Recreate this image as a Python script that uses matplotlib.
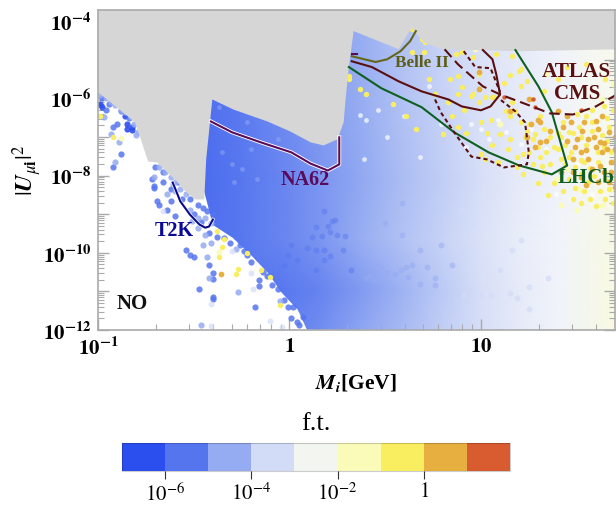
import numpy as np
import matplotlib
matplotlib.use('Agg')
import matplotlib.pyplot as plt
from matplotlib.colors import BoundaryNorm, LinearSegmentedColormap, ListedColormap, Normalize
from matplotlib.cm import ScalarMappable
from matplotlib.patches import Polygon
from matplotlib.ticker import FixedLocator, NullFormatter
import matplotlib.patheffects as pe

plt.rcParams['font.family'] = ['Liberation Serif', 'DejaVu Serif']
plt.rcParams['mathtext.fontset'] = 'stix'

# everything below is log10(mass/GeV) and log10(|U|^2)
x_lim = [-1.0, 1.7]
y_lim = [-12.0, -3.7]

bin_colors = ['#2b4eef', '#5575ef', '#95abf2', '#d3dcf7', '#f3f5f0', '#fafbb8', '#f9ee60', '#e6af3f', '#d95c30']
field_colors = ['#2b4eef', '#5575ef', '#95abf2', '#d3dcf7', '#f9fafa', '#fafbb8', '#f9ee60', '#e6af3f', '#d95c30']
bin_edges = [-7, -6, -5, -4, -3, -2, -1, 0, 1, 2]

excl_m = [-1.0, -1.0, -0.806, -0.764, -0.738, -0.691, -0.587, -0.555, -0.492, -0.445, -0.435, -0.403, -0.293, -0.115,
          0.005, 0.11, 0.178, 0.251, 0.283, 0.293, 0.309, 0.335, 0.571, 0.623, 0.639, 0.702, 0.796, 1.215, 1.712, 1.712]
excl_u = [-3.7, -5.84, -6.62, -7.25, -7.64, -7.66, -8.16, -8.36, -8.62, -8.62, -7.58, -6.03, -6.29, -6.60,
          -6.86, -7.14, -7.22, -7.06, -6.62, -6.03, -5.25, -4.26, -4.73, -4.29, -4.18, -4.55, -4.73, -4.78, -4.73, -3.7]

cloud_m = [-0.445, -0.398, -0.293, -0.188, -0.11, -0.037, 0.042, 0.094, 1.712, 1.712, -0.445]
cloud_u = [-8.4, -9.27, -9.61, -10.10, -10.52, -11.04, -11.48, -12.0, -12.0, -3.7, -3.7]

field_m = [-0.445, -0.26, -0.05, 0.16, 0.37, 0.58, 0.79, 1.00, 1.21, 1.42, 1.712]
field_u = [-12.0, -10.96, -9.66, -8.10, -6.03, -3.7]
field_ft = [[-5.35, -5.35, -5.35, -5.05, -4.6, -4.2, -3.8, -3.4, -3.0, -2.7, -2.1],
            [-5.45, -5.45, -5.45, -5.2, -4.8, -4.35, -3.9, -3.4, -3.0, -2.7, -2.1],
            [-5.65, -5.45, -5.2, -4.9, -4.45, -4.05, -3.7, -3.3, -2.9, -2.7, -2.15],
            [-5.7, -5.45, -5.2, -4.9, -4.55, -4.15, -3.8, -3.4, -3.0, -2.75, -2.3],
            [-5.65, -5.4, -5.1, -4.8, -4.45, -4.05, -3.7, -3.3, -3.0, -2.75, -2.3],
            [-5.65, -5.4, -5.1, -4.8, -4.45, -4.05, -3.7, -3.3, -3.0, -2.75, -2.3]]

bin1_m = [-0.99, -0.98, -0.86, -0.85, -0.85, -0.82, -0.82]
bin1_u = [-6.16, -6.23, -6.47, -6.67, -6.80, -6.83, -6.73]

bin2_m = [-0.96, -0.92, -0.90, -0.88, -0.92, -0.70, -0.66, -0.71, -0.66, -0.62, -0.58, -0.69, -0.68, -0.72, -0.71, -0.64,
          -0.62, -0.60, -0.54, -0.52, -0.50, -0.42, -0.40, -0.40, -0.47, -0.40, -0.40, -0.18, -0.16, -0.16, -0.01, 0.02,
          0.05, 0.07, -0.24, -0.40, -0.48, -0.45, -0.52, -0.56, -0.43, -0.38, -0.34, -0.26, -0.20, -0.14, -0.09, -0.03,
          0.01, 0.04, -0.31, -0.22, -0.12, -0.06, -0.98, -0.94, -0.88, -0.84, -0.50, -0.46, -0.42]
bin2_u = [-6.31, -6.73, -6.67, -7.43, -7.79, -7.79, -7.90, -8.26, -8.16, -8.36, -8.18, -8.67, -8.75, -8.10, -8.31, -8.88,
          -8.67, -9.06, -9.92, -10.05, -10.10, -10.31, -10.52, -10.67, -10.93, -11.14, -11.19, -11.40, -10.70, -10.86, -11.40, -11.40,
          -11.87, -11.66, -9.95, -9.01, -8.75, -8.83, -8.62, -8.62, -8.93, -9.58, -9.61, -9.79, -10.23, -10.49, -10.83, -11.22,
          -11.69, -11.79, -9.75, -10.05, -10.60, -10.95, -6.0, -6.15, -6.33, -6.52, -9.0, -9.2, -9.5]

over2_m = [0.18, 0.22, 0.24, 0.14, 0.21, 0.20, 0.12, 0.17, 0.25, 0.29, -0.01, 0.04, 0.09, 0.14, 0.18, 0.18,
           0.14, 0.28, 0.21, 0.32, -0.03, 0.01]
over2_u = [-8.93, -9.17, -9.14, -9.32, -9.45, -9.30, -9.58, -9.56, -9.53, -9.56, -10.05, -10.18, -9.87, -9.92, -9.92, -10.18,
           -10.44, -9.92, -10.08, -10.44, -10.31, -9.79]

bin3_m = [-0.97, -0.93, -0.80, -0.91, -0.89, -0.71, -0.61, -0.64, -0.28, -0.27, -0.05, -0.46, -0.43, -0.42, -0.99, -0.96,
          -0.93, -0.91, -0.88, -0.86, -0.83, -0.81, -0.79, -0.68, -0.65, -0.62, -0.60, -0.57, -0.54, -0.60, -0.52, -0.48,
          -0.44, -0.41, -0.44, -0.48, -0.51, -0.45, -0.41]
bin3_u = [-6.49, -6.93, -6.96, -7.66, -7.12, -8.03, -8.21, -8.47, -9.90, -11.01, -11.25, -11.87, -10.10, -10.65, -5.92, -6.0,
          -6.10, -6.18, -6.29, -6.36, -6.49, -6.67, -6.88, -7.79, -7.92, -8.05, -8.18, -8.36, -8.49, -8.41, -8.88, -9.09,
          -9.09, -9.22, -9.53, -9.35, -9.19, -9.79, -9.74]

over3_m = [0.50, 0.59, 0.59, 0.68, 0.79, 0.85, 0.76, 0.72, 0.64, 0.61, 0.58, 0.51, 0.48, 0.55, 0.42, 0.40, 0.44, 0.62, 0.68, 0.76]
over3_u = [-9.22, -8.70, -9.53, -9.92, -9.79, -10.31, -10.65, -10.36, -10.31, -10.36, -10.44, -10.49, -10.36, -10.54, -10.60, -10.65,
           -10.70, -10.62, -10.80, -10.83]

blob_m = [-0.37, -0.30, -0.25, -0.29, -0.20, -0.06, -0.22, -0.35, -0.17]
blob_u = [-6.23, -7.71, -7.84, -8.18, -7.32, -7.06, -6.62, -7.40, -8.10]

bin4_m = [-0.66, -0.41, -0.30, -0.20, -0.10, -0.04, -0.41, -0.19, 0.91, 0.95, 1.35, 1.25, 1.15, 1.25, 1.19, 1.05, 1.00,
          1.10, 1.16, 0.95, 0.90, 1.21]
bin4_u = [-8.93, -11.32, -9.95, -10.52, -11.76, -11.92, -11.89, -10.93, -11.09, -10.70, -10.65, -10.88, -11.04, -11.45, -11.17, -11.09, -11.09,
          -10.44, -9.92, -9.27, -8.88, -9.66]

bin5_m = [0.60, 0.51, 0.40, 0.37, 0.46, 0.73, 0.39, 0.68, 0.92, 1.04, 1.13, 1.16, 1.09, 0.79, 0.95, 1.21, 1.39, 1.47, 1.58,
          1.50, 1.34, 1.42, 1.68, 1.60, 1.26, 1.00]
bin5_u = [-6.47, -7.01, -6.55, -6.42, -6.29, -5.69, -7.58, -7.51, -7.25, -7.06, -6.88, -6.29, -6.55, -6.67, -6.67, -7.19, -8.49, -8.62, -8.49,
          -7.71, -7.32, -7.06, -7.32, -6.55, -6.80, -6.80]

bin6_m = [-0.88, -0.37, 1.39, 1.45, 1.51, 1.68, 1.63, 1.50, 1.42, 1.63, 1.69, 1.34, 0.97, 1.10]
bin6_u = [-7.04, -9.97, -8.10, -7.84, -8.36, -8.36, -8.75, -8.88, -8.75, -6.03, -5.64, -5.38, -4.73, -6.67]

bin7_m = [-0.99, -0.92, -0.38, -0.34, -0.35, -0.27, -0.28, -0.22, -0.15, -0.10, -0.05, -0.37,
          1.20, 1.24, 1.21, 1.07, 1.02, 0.96, 0.99, 1.16, 1.13, 1.15, 1.18, 0.90, 0.84, 0.91, 0.88, 1.00, 1.05, 1.21, 1.25,
          1.31, 1.33, 1.28, 1.23, 1.30, 1.31, 1.19, 1.22, 1.15, 1.10, 1.00, 1.02, 1.09, 1.19, 1.43, 1.46, 1.51, 1.58, 1.64,
          1.70, 1.38, 1.42, 1.49, 1.54, 1.61, 1.68, 1.46, 1.49, 1.40, 1.54, 1.62, 1.67, 1.56, 1.46, 1.61, 1.67, 1.58, 1.64, 1.42,
          0.69, 0.71, 0.64, 0.70, 0.87, 0.90, 0.99, 0.31, 0.31, 0.40, 0.37, 0.54, 0.61, 0.66, 0.80, 0.85, 0.88, 0.95, 1.06,
          1.08, 1.16, 1.21, 1.26, 0.96, 0.88, 0.64,
          1.40, 1.36, 1.34, 1.36, 1.33, 1.38, 1.43, 1.48, 1.52, 1.57, 1.60, 1.65, 1.69, 1.55, 1.52, 1.48, 1.44, 1.47, 1.44, 1.52,
          1.57, 1.52, 1.59, 1.65, 1.70, 1.68, 1.66, 1.70, 1.63, 1.58, 1.55, 1.50, 1.66, 1.69, 1.24, 1.27, 1.25, 1.27, 1.32, 1.22,
          1.35, 1.30, 1.14, 1.06, 1.03, 0.92, 0.83, 0.76, 0.73, 1.12, 1.15, 1.33, 1.40, 1.45, 1.55, 1.65]
bin7_u = [-6.47, -6.99, -9.43, -9.64, -9.84, -10.41, -10.54, -10.0, -10.44, -10.62, -11.35, -10.10,
          -5.30, -5.56, -5.69, -5.97, -5.97, -5.90, -6.10, -6.10, -6.34, -6.47, -6.34, -5.71, -5.51, -6.29, -6.73, -6.62, -6.55, -6.62, -6.67,
          -6.47, -6.80, -6.93, -6.99, -7.25, -7.51, -7.51, -7.45, -7.06, -6.93, -7.45, -7.58, -7.66, -7.77, -6.62, -6.88, -6.73, -6.62, -7.25,
          -7.32, -7.25, -7.58, -7.77, -7.66, -7.66, -7.92, -8.10, -8.31, -7.32, -8.41, -8.41, -8.36, -8.18, -7.51, -7.40, -6.73, -6.29, -6.21, -7.01,
          -4.47, -4.55, -4.81, -4.81, -4.86, -4.81, -5.38, -5.43, -5.51, -5.90, -5.77, -6.16, -6.47, -6.80, -6.93, -6.47, -5.90, -5.95, -5.97,
          -4.86, -4.91, -5.25, -6.03, -4.93, -5.43, -4.21,
          -6.9, -7.0, -7.4, -7.7, -7.9, -8.2, -8.4, -8.6, -8.7, -8.6, -8.8, -8.6, -8.7, -7.2, -7.0, -6.9, -7.2, -7.4, -7.7, -7.6,
          -7.8, -7.95, -8.0, -8.1, -8.1, -7.4, -7.1, -7.6, -6.95, -6.85, -6.45, -6.4, -6.5, -6.3, -6.85, -7.05, -7.4, -7.7, -7.75, -7.95,
          -8.5, -8.2, -7.3, -7.2, -6.9, -6.9, -6.1, -5.9, -5.5, -5.6, -5.4, -5.8, -5.5, -5.2, -5.1, -5.5]

bin8_m = [1.25, 1.62, 1.59, 1.56, 1.61, 1.67, 1.70, 1.63, 1.56, 1.58, 1.64, 1.68, 1.31, 1.30, 1.26, 1.15, 0.99, 1.49, 1.52,
          1.48, 1.52, 1.43, 1.61, 1.67, 1.40, 1.47, 1.54, 1.63, 1.31, 1.28, -0.36, 0.99,
          1.60, 1.64, 1.55, 1.50, 1.45, 1.53, 1.48, 1.42, 1.55, 1.62, 1.68, 1.70, 1.66, 1.60, 1.36, 1.34, 1.24, 1.70, 1.45]
bin8_u = [-6.03, -7.12, -7.01, -7.06, -6.80, -6.86, -6.99, -7.40, -7.58, -7.84, -7.92, -7.66, -6.62, -6.55, -6.67, -6.34, -5.32, -7.25, -7.40,
          -7.58, -8.03, -6.73, -8.18, -8.16, -6.34, -6.62, -6.62, -6.47, -7.14, -7.27, -10.54, -5.77,
          -7.25, -7.15, -7.35, -7.05, -7.1, -6.85, -7.9, -7.9, -8.25, -7.75, -7.9, -7.3, -7.3, -6.6, -6.85, -7.1, -7.0, -8.3, -6.45]

bin9_m = [1.27, 1.12, 1.52, 1.28]
bin9_u = [-6.03, -5.97, -6.29, -6.23]

t2k_m = [-0.61, -0.57, -0.52, -0.47, -0.44, -0.42, -0.40]
t2k_u = [-8.18, -8.67, -9.01, -9.27, -9.35, -9.32, -9.14]
na62_m = [-0.41, -0.30, -0.15, 0.01, 0.11, 0.20, 0.26, 0.26]
na62_u = [-6.60, -6.88, -7.14, -7.40, -7.69, -7.87, -7.71, -7.01]
na62b_m = [0.325, 0.35]
na62b_u = [-4.84, -4.84]
belle_m = [0.325, 0.45, 0.51, 0.58, 0.63, 0.66]
belle_u = [-4.91, -5.06, -4.99, -4.78, -4.52, -4.26]
atlas_m = [0.325, 0.43, 0.57, 0.69, 0.83, 0.90, 1.00, 1.05, 1.10, 1.08, 1.06, 1.01]
atlas_u = [-5.04, -5.19, -5.56, -5.82, -6.03, -6.21, -6.31, -6.21, -5.90, -5.38, -4.99, -4.75]
lhcb_m = [0.31, 0.48, 0.69, 0.86, 1.04, 1.20, 1.37, 1.45, 1.37, 1.30, 1.18]
lhcb_u = [-5.19, -5.74, -6.23, -6.88, -7.40, -7.74, -7.97, -7.74, -6.36, -5.69, -4.75]
cms_m = [0.81, 0.88, 1.01, 1.10, 1.24, 1.36, 1.48, 1.60, 1.71]
cms_u = [-4.73, -5.12, -5.69, -5.90, -6.16, -6.39, -6.42, -6.21, -5.90]
dot1_m = [0.91, 0.97, 1.05, 1.10]
dot1_u = [-4.78, -5.19, -5.22, -5.84]
dot2_m = [0.76, 0.79, 0.86, 0.95, 1.03, 1.12, 1.24, 1.25, 1.23, 1.18, 1.10]
dot2_u = [-6.03, -6.36, -6.88, -7.51, -7.58, -7.79, -7.71, -7.40, -6.62, -6.34, -6.03]

labels = ['NO', 'T2K', 'NA62', 'Belle II', 'ATLAS', 'CMS', 'LHCb']
label_m = [-0.82, -0.60, 0.08, 0.69, 1.50, 1.50, 1.55]
label_u = [-11.29, -9.40, -8.10, -5.06, -5.30, -5.87, -8.05]
label_colors = ['#111111', '#0a0a96', '#5a0a5a', '#5c5c12', '#5a1010', '#5a1010', '#0f5f1f']
label_sizes = [15, 14.5, 14.5, 12.3, 15.3, 15, 15]

fig = plt.figure(figsize=(6.16, 5.06), dpi=100)
ax = fig.add_axes([98 / 616, (506 - 331) / 506, 517 / 616, 320.5 / 506])
ax.set_xscale('log')
ax.set_yscale('log')
ax.set_xlim(10 ** x_lim[0], 10 ** x_lim[1])
ax.set_ylim(10 ** y_lim[0], 10 ** y_lim[1])


def pow10(values):
    return 10 ** np.array(values, dtype=float)


# smooth background of the dense cloud, colours follow the colourbar
field_cmap = LinearSegmentedColormap.from_list('ft', [(i / 8, c) for i, c in enumerate(field_colors)])
mesh = ax.pcolormesh(pow10(field_m), pow10(field_u), np.array(field_ft), cmap=field_cmap,
                     norm=Normalize(-6.5, 1.5), shading='gouraud', zorder=1)
cloud = Polygon(np.column_stack([pow10(cloud_m), pow10(cloud_u)]), closed=True, transform=ax.transData, fc='none', ec='none')
ax.add_patch(cloud)
mesh.set_clip_path(cloud)

dot_groups = [(bin1_m, bin1_u, bin_colors[0], 20, 0.9),
              (bin2_m, bin2_u, bin_colors[1], 20, 0.85),
              (over2_m, over2_u, bin_colors[1], 18, 0.45),
              (bin3_m, bin3_u, bin_colors[2], 20, 0.85),
              (over3_m, over3_u, bin_colors[2], 18, 0.5),
              (blob_m, blob_u, bin_colors[2], 12, 0.5),
              (bin4_m, bin4_u, bin_colors[3], 18, 0.7),
              (bin5_m, bin5_u, '#ffffff', 12, 0.7),
              (bin6_m, bin6_u, bin_colors[5], 18, 1),
              (bin7_m, bin7_u, bin_colors[6], 15, 1),
              (bin8_m, bin8_u, bin_colors[7], 17, 1),
              (bin9_m, bin9_u, bin_colors[8], 10, 1)]
for xs, ys, col, size, alpha in dot_groups:
    ax.scatter(pow10(xs), pow10(ys), s=size, color=col, alpha=alpha, linewidths=0, zorder=2)

ax.fill(pow10(excl_m), pow10(excl_u), color='#d6d6d6', lw=0, zorder=3)

ax.plot(pow10(t2k_m), pow10(t2k_u), color='#0a0a8c', lw=1.5, zorder=4,
        path_effects=[pe.Stroke(linewidth=2.4, foreground='white'), pe.Normal()])
ax.plot(pow10(na62_m), pow10(na62_u), color='#5a0a5a', lw=1.5, zorder=4,
        path_effects=[pe.Stroke(linewidth=2.8, foreground='white'), pe.Normal()])
ax.plot(pow10(na62b_m), pow10(na62b_u), color='#5a0a5a', lw=1.5, zorder=4)
ax.plot(pow10(belle_m), pow10(belle_u), color='#66661a', lw=1.5, zorder=4)
ax.plot(pow10(atlas_m), pow10(atlas_u), color='#5a1010', lw=1.5, zorder=4)
ax.plot(pow10(lhcb_m), pow10(lhcb_u), color='#0f5f1f', lw=1.5, zorder=4)
ax.plot(pow10(cms_m), pow10(cms_u), color='#5a1010', lw=1.5, ls=(0, (5, 2.5)), zorder=4)
ax.plot(pow10(dot1_m), pow10(dot1_u), color='#5a1010', lw=1.5, ls=(0, (2, 1.5)), zorder=4)
ax.plot(pow10(dot2_m), pow10(dot2_u), color='#5a1010', lw=1.5, ls=(0, (2, 1.5)), zorder=4)

for name, xv, yv, col, size in zip(labels, label_m, label_u, label_colors, label_sizes):
    ax.text(10 ** xv, 10 ** yv, name, color=col, fontsize=size, fontweight='bold', ha='center', va='center', zorder=5)

for side in ax.spines.values():
    side.set_color('#aaaaaa')
    side.set_linewidth(1.2)
    side.set_zorder(6)

x_major = [0.1, 1, 10]
x_minor = [m * d for d in [0.1, 1, 10] for m in range(2, 10) if m * d < 50]
y_major = [10.0 ** k for k in range(-12, -3)]
y_minor = [m * 10.0 ** k for k in range(-12, -4) for m in range(2, 10)]
ax.xaxis.set_major_locator(FixedLocator(x_major))
ax.xaxis.set_minor_locator(FixedLocator(x_minor))
ax.yaxis.set_major_locator(FixedLocator(y_major))
ax.yaxis.set_minor_locator(FixedLocator(y_minor))
ax.xaxis.set_minor_formatter(NullFormatter())
ax.yaxis.set_minor_formatter(NullFormatter())
ax.set_xticklabels([r'$\mathbf{10^{-1}}$', r'$\mathbf{1}$', r'$\mathbf{10}$'], fontsize=15)
ax.set_yticklabels(['' if k % 2 else r'$\mathbf{10^{%d}}$' % k for k in range(-12, -3)], fontsize=15)
ax.tick_params(which='major', direction='in', length=8, width=1, color='#aaaaaa', top=True, right=True, pad=5, zorder=6)
ax.tick_params(which='minor', direction='in', length=4.5, width=0.8, color='#aaaaaa', top=True, right=True, zorder=6)

fig.text(356 / 616, 1 - 383 / 506, r'$\mathbfit{M_i}$[GeV]', fontsize=15.5, fontweight='bold', ha='center', va='center')
fig.text(27 / 616, 1 - 170 / 506, r'$|\mathbfit{U}_{\mu\mathbf{i}}|^2$', fontsize=17, fontweight='bold', rotation=90, ha='center', va='center')
fig.text(316 / 616, 1 - 424 / 506, 'f.t.', fontsize=19, ha='center', va='center')

cax = fig.add_axes([122 / 616, (506 - 472) / 506, 388 / 616, 28 / 506])
sm = ScalarMappable(norm=BoundaryNorm(bin_edges, 9), cmap=ListedColormap(bin_colors))
cb = fig.colorbar(sm, cax=cax, orientation='horizontal', spacing='proportional', drawedges=False)
cb.set_ticks([-6, -4, -2, 0])
cb.set_ticklabels([r'$10^{-6}$', r'$10^{-4}$', r'$10^{-2}$', r'$1$'])
cb.ax.tick_params(length=6, width=0.8, labelsize=15, pad=2, color='#333333')
cb.ax.minorticks_off()
cb.outline.set_edgecolor('#00000033')
cb.outline.set_linewidth(0.8)

fig.savefig('out.png', dpi=100)
